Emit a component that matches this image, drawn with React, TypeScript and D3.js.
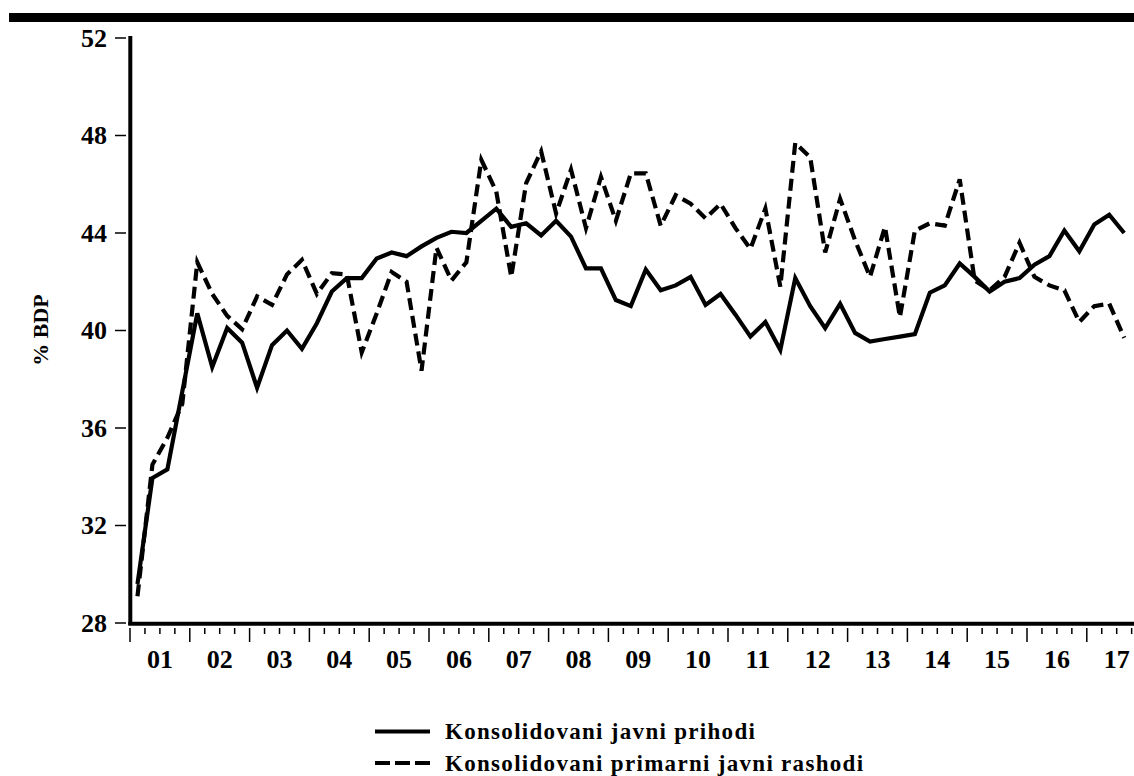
import React from "react";
import * as d3 from "d3";

// Quarterly data, 2001Q1 .. 2017Q3 (% of GDP)
const startYear = 2001;
const yearLabels = ["01","02","03","04","05","06","07","08","09","10","11","12","13","14","15","16","17"];
const yTicks = [28, 32, 36, 40, 44, 48, 52];

const prihodi = [
  29.6, 33.95, 34.3, 37.5,
  40.7, 38.5, 40.1, 39.5,
  37.65, 39.4, 40.0, 39.25,
  40.3, 41.6, 42.15, 42.15,
  42.95, 43.2, 43.05, 43.45,
  43.8, 44.05, 44.0, 44.5,
  45.0, 44.25, 44.4, 43.9,
  44.5, 43.85, 42.55, 42.55,
  41.25, 41.0, 42.5, 41.65,
  41.85, 42.2, 41.05, 41.5,
  40.65, 39.75, 40.35, 39.2,
  42.15, 41.0, 40.1, 41.1,
  39.9, 39.55, 39.65, 39.75,
  39.85, 41.55, 41.85, 42.75,
  42.2, 41.6, 42.0, 42.15,
  42.7, 43.05, 44.1, 43.25,
  44.35, 44.75, 44.0,
];

const rashodi = [
  29.1, 34.5, 35.6, 37.0,
  42.8, 41.5, 40.6, 40.05,
  41.4, 41.05, 42.3, 42.9,
  41.5, 42.35, 42.3, 39.1,
  40.7, 42.4, 42.0, 38.35,
  43.4, 42.05, 42.8, 47.0,
  45.7, 42.2, 46.05, 47.35,
  44.8, 46.6, 44.2, 46.3,
  44.5, 46.45, 46.45, 44.3,
  45.55, 45.2, 44.6, 45.2,
  44.2, 43.35, 45.0, 41.8,
  47.7, 47.1, 43.2, 45.4,
  43.7, 42.2, 44.25, 40.55,
  44.1, 44.4, 44.3, 46.2,
  42.05, 41.65, 42.2, 43.6,
  42.2, 41.85, 41.65, 40.35,
  41.0, 41.1, 39.7,
];

const legendLabels = ["Konsolidovani javni prihodi", "Konsolidovani primarni javni rashodi"];

const W = 1134;
const H = 776;
const FONT = "'Liberation Serif', 'Times New Roman', serif";

export default function App() {
  const x = d3.scaleLinear().domain([startYear, startYear + 17]).range([130, 130 + 17 * 59.8]);
  const y = d3.scaleLinear().domain([28, 52]).range([623, 38]);

  const t = (i: number) => startYear + (i + 0.5) / 4;
  const line = d3
    .line<number>()
    .x((_, i) => x(t(i)))
    .y((d) => y(d));

  const quarterTicks: { v: number; major: boolean }[] = [];
  for (let k = 0; k <= 17 * 4; k++) {
    quarterTicks.push({ v: startYear + k / 4, major: k % 4 === 0 });
  }

  return (
    <svg
      width={W}
      height={H}
      style={{ position: "absolute", left: 0, top: 0, background: "#fff" }}
      fontFamily={FONT}
    >
      <rect x={9} y={13} width={W - 9} height={9} fill="#000" />

      {/* y axis */}
      <line x1={130.3} x2={130.3} y1={36} y2={625} stroke="#000" strokeWidth={4} />
      {yTicks.map((v) => (
        <g key={v}>
          <line x1={115} x2={126} y1={y(v)} y2={y(v)} stroke="#000" strokeWidth={1.5} />
          <text
            x={107}
            y={y(v)}
            dy="0.34em"
            textAnchor="end"
            fontSize={26}
            fontWeight="bold"
          >
            {v}
          </text>
        </g>
      ))}

      {/* x axis */}
      <line x1={128.3} x2={W} y1={623.7} y2={623.7} stroke="#000" strokeWidth={4} />
      {quarterTicks.map((tk, i) => (
        <line
          key={i}
          x1={x(tk.v)}
          x2={x(tk.v)}
          y1={628}
          y2={tk.major ? 642 : 634}
          stroke="#000"
          strokeWidth={1.5}
        />
      ))}
      {yearLabels.map((lab, i) => (
        <text
          key={lab}
          x={x(startYear + i + 0.5)}
          y={668}
          textAnchor="middle"
          fontSize={26}
          fontWeight="bold"
        >
          {lab}
        </text>
      ))}

      {/* y title */}
      <text
        transform="translate(48,330) rotate(-90)"
        textAnchor="middle"
        fontSize={22}
        fontWeight="bold"
      >
        % BDP
      </text>

      {/* series */}
      <path d={line(rashodi) || ""} fill="none" stroke="#000" strokeWidth={4.2} strokeDasharray="12,6" strokeLinejoin="miter" />
      <path d={line(prihodi) || ""} fill="none" stroke="#000" strokeWidth={4.2} strokeLinejoin="miter" />

      {/* legend */}
      <line x1={375} x2={430} y1={731.5} y2={731.5} stroke="#000" strokeWidth={4} />
      <text x={445} y={739} fontSize={23} fontWeight="bold" letterSpacing={1.3}>
        {legendLabels[0]}
      </text>
      <line x1={375} x2={430} y1={763} y2={763} stroke="#000" strokeWidth={4} strokeDasharray="15,5" />
      <text x={445} y={771} fontSize={23} fontWeight="bold" letterSpacing={1.3}>
        {legendLabels[1]}
      </text>
    </svg>
  );
}
